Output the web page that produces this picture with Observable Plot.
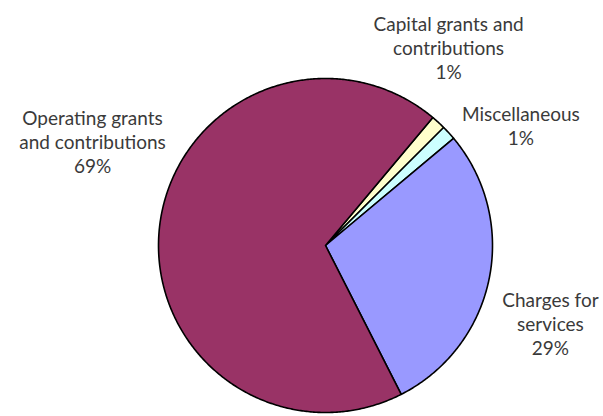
<!DOCTYPE html>
<html><head><meta charset="utf-8">
<script src="https://cdn.jsdelivr.net/npm/d3@7"></script>
<script src="https://cdn.jsdelivr.net/npm/@observablehq/plot@0.6"></script>
<style>body{margin:0;background:#fff}</style>
</head><body><div id="chart"></div>
<script>
// Data (clockwise order, starting near 1 o'clock)
const categories = ["Capital grants and contributions", "Miscellaneous", "Charges for services", "Operating grants and contributions"];
const shares = [1.4, 1.4, 28.6, 68.6];
const labelText = ["Capital grants and\ncontributions", "Miscellaneous", "Charges for\nservices", "Operating grants\nand contributions"];
const sliceColors = ["#FFFFCC", "#CCFFFF", "#9999FF", "#993366"];

// Layout
const layout = {
  width: 603, height: 416,
  marginLeft: 158, marginRight: 111, marginTop: 78, marginBottom: 4,
  startDeg: 40,
  labelAt: [[0.737, 1.186], [1.17, 0.719], [1.347, -0.467], [-1.395, 0.623]]
};

const pie = d3.pie().sort(null).value(d => d.value)
  .startAngle(layout.startDeg * Math.PI / 180)
  .endAngle(layout.startDeg * Math.PI / 180 + 2 * Math.PI);
const rows = categories.map((c, i) => ({name: c, value: shares[i]}));
const arcs = pie(rows);

// outline points of each slice (unit circle, angle clockwise from 12 o'clock)
const pts = [];
arcs.forEach(a => {
  const name = a.data.name;
  pts.push({name, x: 0, y: 0});
  const n = Math.max(2, Math.ceil((a.endAngle - a.startAngle) / (Math.PI / 360)));
  for (let k = 0; k <= n; k++) {
    const t = a.startAngle + (a.endAngle - a.startAngle) * k / n;
    pts.push({name, x: Math.sin(t), y: Math.cos(t)});
  }
});

const labels = arcs.map((a, i) => ({
  text: labelText[i] + "\n" + Math.round(a.data.value) + "%",
  x: layout.labelAt[i][0], y: layout.labelAt[i][1]
}));

const chart = Plot.plot({
  width: layout.width, height: layout.height,
  marginLeft: layout.marginLeft, marginRight: layout.marginRight,
  marginTop: layout.marginTop, marginBottom: layout.marginBottom,
  x: {domain: [-1, 1], axis: null},
  y: {domain: [-1, 1], axis: null},
  color: {domain: categories, range: sliceColors},
  style: {fontFamily: "Lato, sans-serif", background: "#fff"},
  marks: [
    Plot.line(pts, {x: "x", y: "y", z: "name", fill: "name", stroke: "#000", strokeWidth: 1.6, curve: "linear-closed", strokeLinejoin: "round"}),
    Plot.text(labels, {x: "x", y: "y", text: "text", fontSize: 19, lineHeight: 1.27, fill: "#3a3a3a"})
  ]
});
document.getElementById("chart").appendChild(chart);
</script>
</body></html>
